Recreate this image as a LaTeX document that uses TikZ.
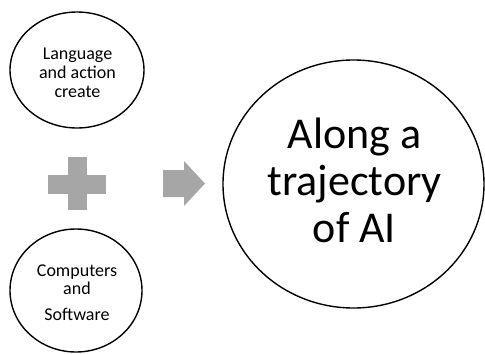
\documentclass[tikz,border=0pt]{standalone}
\usepackage{fontspec}
\setmainfont{Carlito}
\usetikzlibrary{shapes.geometric}
\definecolor{shapegray}{RGB}{166,166,166}
\tikzset{
  ring/.style={draw=black, line width=1.4pt, ellipse, inner sep=0pt},
  smalltext/.style={align=center, font=\fontsize{18}{18.7}\selectfont, inner sep=0pt},
  bigtext/.style={align=center, font=\fontsize{44}{47}\selectfont, inner sep=0pt},
  grayshape/.style={fill=shapegray, draw=none}
}
\begin{document}
\begin{tikzpicture}[x=1pt, y=-1pt]
\useasboundingbox (0,0) rectangle (485,354);
% circles
\node[ring, minimum width=134pt, minimum height=116pt] (lang) at (77,70) {};
\node[ring, minimum width=132pt, minimum height=123pt] (comp) at (76,290.5) {};
\node[ring, minimum width=261pt, minimum height=248pt] (ai) at (353.5,184) {};
% texts (base = baseline of last line)
\node[smalltext, anchor=base] (langtext) at (77.5,97) {Language\\and action\\create};
\node[smalltext, anchor=base] (comptext) at (77,320) {Computers\\and\\[6.5pt]Software};
\node[bigtext, anchor=base] (aitext) at (354.5,242) {Along a\\trajectory\\of AI};
% plus
\fill[grayshape] (68,157) rectangle (87,210);
\fill[grayshape] (48,175) rectangle (106,194);
% arrow
\fill[grayshape] (163,170) -- (184,170) -- (184,161) -- (205,183.5) -- (184,206) -- (184,197) -- (163,197) -- cycle;
\end{tikzpicture}
\end{document}
